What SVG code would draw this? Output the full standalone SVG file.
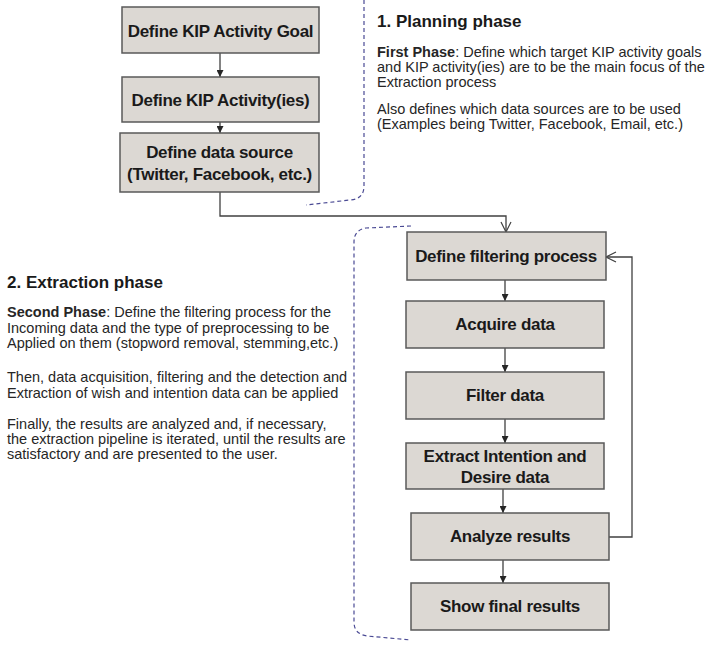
<svg xmlns="http://www.w3.org/2000/svg" width="706" height="645" viewBox="0 0 706 645">
<style>
.box{fill:#dcd8d3;stroke:#595959;stroke-width:1.5}
.lbl{font-family:"Liberation Sans",Arial,sans-serif;font-weight:bold;font-size:17px;fill:#1a1a1a;text-anchor:middle;letter-spacing:-0.3px}
.head{font-family:"Liberation Sans",Arial,sans-serif;font-weight:bold;font-size:17px;fill:#1a1a1a}
.body{font-family:"Liberation Sans",Arial,sans-serif;font-size:14.5px;fill:#262626}
.con{fill:none;stroke:#404040;stroke-width:1.3}
.dash{fill:none;stroke:#4a4a94;stroke-width:1.2;stroke-dasharray:4 3}
</style>
<defs>
<marker id="tri" viewBox="0 0 10 10" refX="10" refY="5" markerWidth="7" markerHeight="7" markerUnits="userSpaceOnUse" orient="auto">
<path d="M0,0 L10,5 L0,10 Z" fill="#262626"/>
</marker>
<marker id="open" viewBox="0 0 12 12" refX="11" refY="6" markerWidth="12" markerHeight="12" markerUnits="userSpaceOnUse" orient="auto">
<path d="M1,1 L11,6 L1,11" fill="none" stroke="#404040" stroke-width="1.2"/>
</marker>
</defs>
<rect width="706" height="645" fill="#ffffff"/>

<g id="dashes">
<path class="dash" d="M364,0 V186 Q364,199 350,200 L306,205"/>
<path class="dash" d="M411,226 L366,228 Q354,230 354,242 V622 Q354,634 367,636 L411,640"/>
</g>

<g id="connectors">
<path class="con" d="M220,53 V77" marker-end="url(#tri)"/>
<path class="con" d="M220,122 V133" marker-end="url(#tri)"/>
<path class="con" d="M220,192 V216 H506 V232" marker-end="url(#open)"/>
<path class="con" d="M505,280 V301" marker-end="url(#tri)"/>
<path class="con" d="M505,348 V372" marker-end="url(#tri)"/>
<path class="con" d="M505,419 V443" marker-end="url(#tri)"/>
<path class="con" d="M503,489 V513" marker-end="url(#tri)"/>
<path class="con" d="M503,560 V583" marker-end="url(#tri)"/>
<path class="con" d="M609,537 H632 V257 H606" marker-end="url(#open)"/>
</g>

<g id="n1"><rect class="box" x="122" y="7" width="197" height="46"/><text class="lbl" x="220.5" y="37">Define KIP Activity Goal</text></g>
<g id="n2"><rect class="box" x="122" y="77" width="197" height="45"/><text class="lbl" x="220.5" y="106">Define KIP Activity(ies)</text></g>
<g id="n3"><rect class="box" x="120" y="133" width="199" height="59"/><text class="lbl" x="219.5" y="158">Define data source</text><text class="lbl" x="219.5" y="180">(Twitter, Facebook, etc.)</text></g>

<g id="planning">
<text class="head" x="377" y="27">1. Planning phase</text>
<text class="body" x="377" y="57"><tspan font-weight="bold">First Phase</tspan>: Define which target KIP activity goals</text>
<text class="body" x="377" y="72">and KIP activity(ies) are to be the main focus of the</text>
<text class="body" x="377" y="87">Extraction process</text>
<text class="body" x="377" y="114">Also defines which data sources are to be used</text>
<text class="body" x="377" y="129">(Examples being Twitter, Facebook, Email, etc.)</text>
</g>

<g id="extraction">
<text class="head" x="7" y="288">2. Extraction phase</text>
<text class="body" x="7" y="317"><tspan font-weight="bold">Second Phase</tspan>: Define the filtering process for the</text>
<text class="body" x="7" y="333">Incoming data and the type of preprocessing to be</text>
<text class="body" x="7" y="348">Applied on them (stopword removal, stemming,etc.)</text>
<text class="body" x="7" y="382">Then, data acquisition, filtering and the detection and</text>
<text class="body" x="7" y="398">Extraction of wish and intention data can be applied</text>
<text class="body" x="7" y="429">Finally, the results are analyzed and, if necessary,</text>
<text class="body" x="7" y="444">the extraction pipeline is iterated, until the results are</text>
<text class="body" x="7" y="459">satisfactory and are presented to the user.</text>
</g>

<g id="n4"><rect class="box" x="407" y="232" width="199" height="48"/><text class="lbl" x="506" y="262">Define filtering process</text></g>
<g id="n5"><rect class="box" x="406" y="301" width="198" height="47"/><text class="lbl" x="505" y="330">Acquire data</text></g>
<g id="n6"><rect class="box" x="406" y="372" width="198" height="47"/><text class="lbl" x="505" y="401">Filter data</text></g>
<g id="n7"><rect class="box" x="406" y="443" width="198" height="46"/><text class="lbl" x="505" y="462">Extract Intention and</text><text class="lbl" x="505" y="483">Desire data</text></g>
<g id="n8"><rect class="box" x="411" y="513" width="198" height="47"/><text class="lbl" x="510" y="542">Analyze results</text></g>
<g id="n9"><rect class="box" x="411" y="583" width="198" height="47"/><text class="lbl" x="510" y="612">Show final results</text></g>
</svg>
